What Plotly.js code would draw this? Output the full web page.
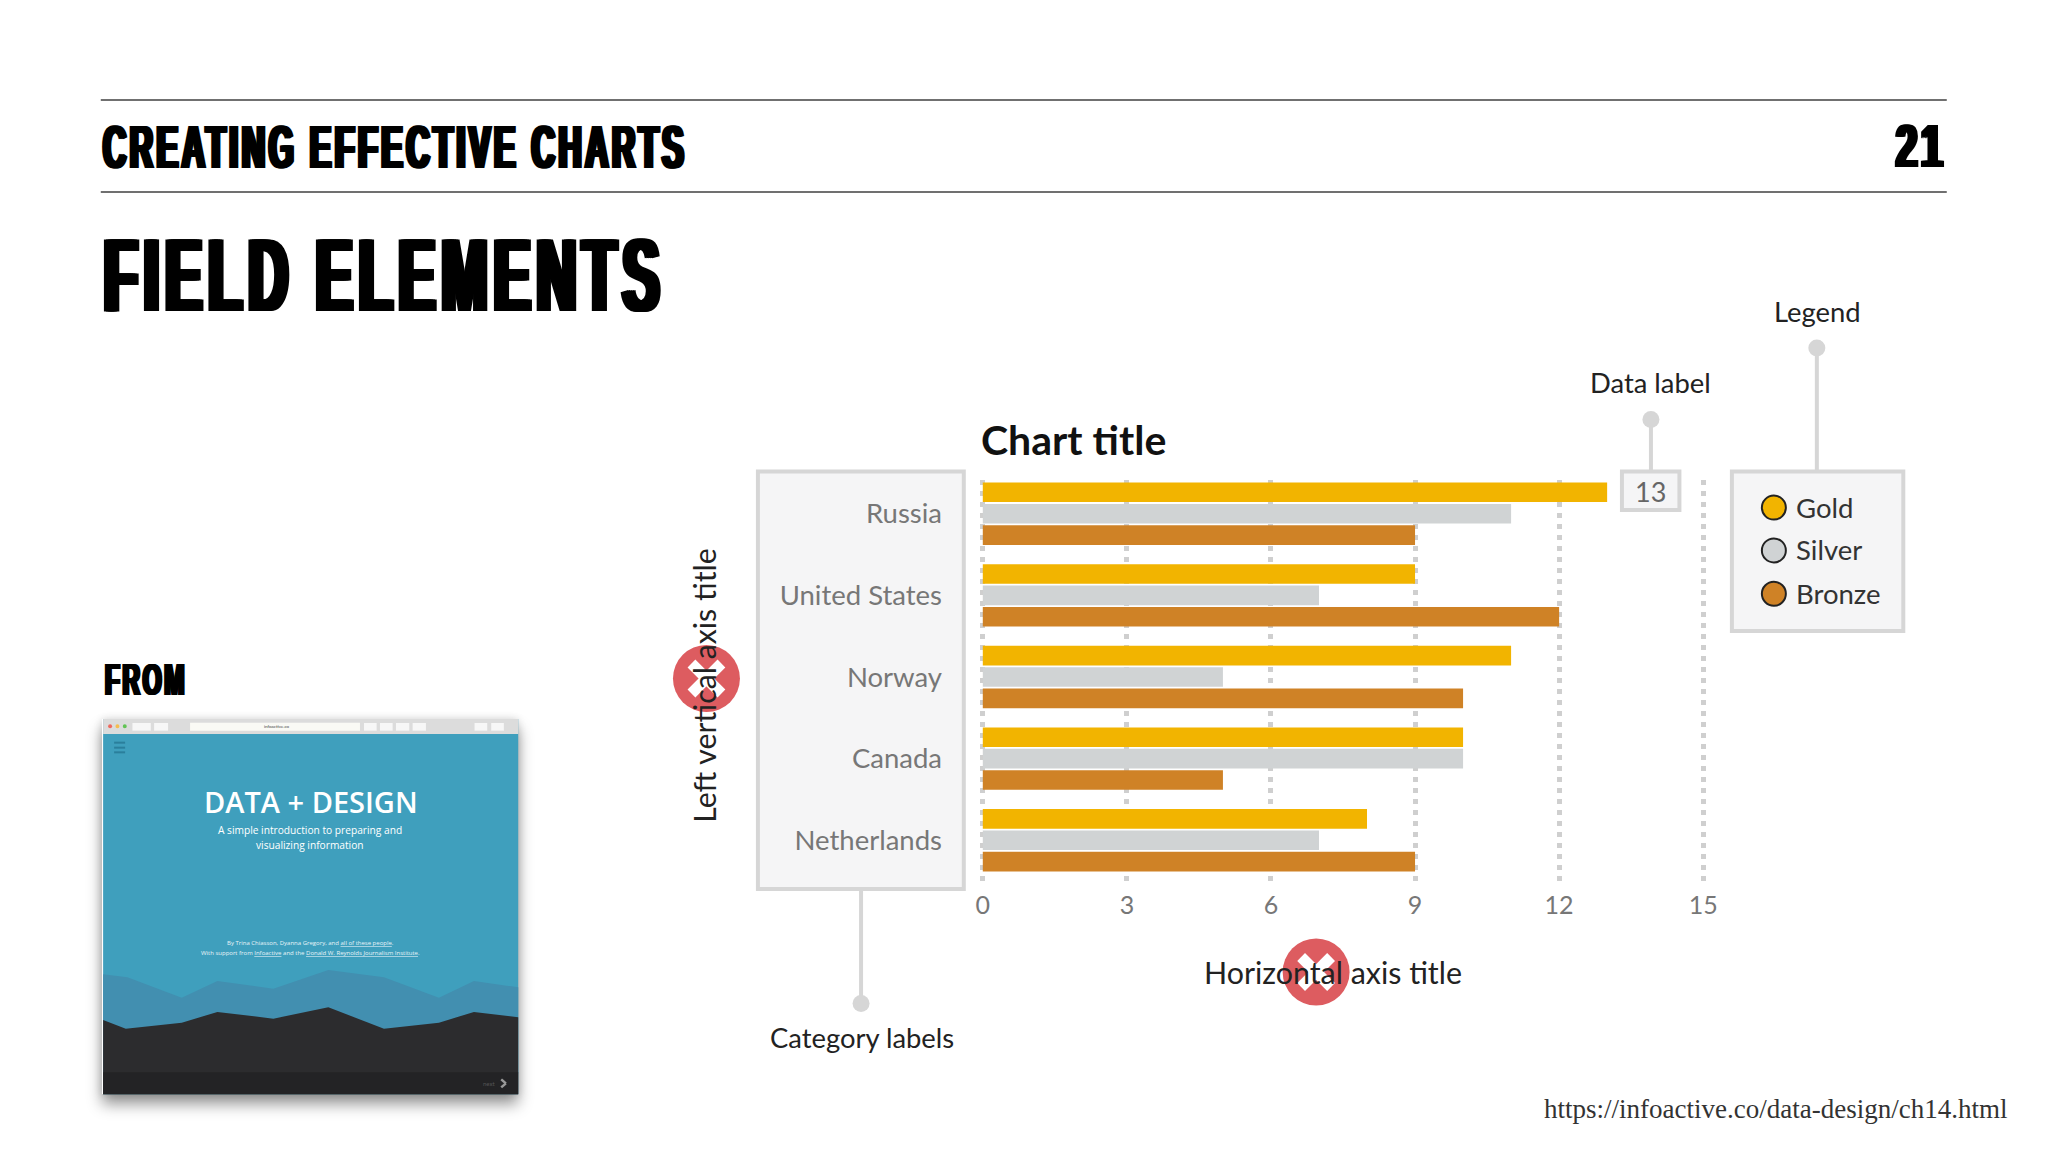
<!DOCTYPE html>
<html><head><meta charset="utf-8">
<script src="https://cdn.plot.ly/plotly-3.0.1.min.js"></script>
<style>html,body{margin:0;padding:0;background:#fff;width:2048px;height:1150px;overflow:hidden}
#shadow{position:absolute;left:102px;top:719px;width:416px;height:375px;box-shadow:0 10px 14px rgba(0,0,0,.42),0 0 8px rgba(0,0,0,.14)}
#chart{position:absolute;left:0;top:0;width:2048px;height:1150px}
.annotation-text[data-unformatted="CREATING EFFECTIVE CHARTS"]{letter-spacing:7px;transform-box:fill-box;transform-origin:0 50%;transform:scaleX(.518)}
.annotation-text[data-unformatted="FIELD ELEMENTS"]{letter-spacing:12px;transform-box:fill-box;transform-origin:0 50%;transform:scaleX(.528)}
.annotation-text[data-unformatted="FROM"]{letter-spacing:5px;transform-box:fill-box;transform-origin:0 50%;transform:scaleX(.55)}
.annotation-text[data-unformatted="21"]{letter-spacing:6px;transform-box:fill-box;transform-origin:100% 50%;transform:scaleX(.62)}
.xtitle{translate:-10px 0}
.ytitle{translate:0 3px}
</style></head>
<body><div id="shadow"></div><div id="chart"></div>
<script>
const categories = ['Russia','United States','Norway','Canada','Netherlands'];
const seriesNames = ['Gold','Silver','Bronze'];
const gold   = [13,9,11,10,8];
const silver = [11,7,5,10,7];
const bronze = [9,12,10,5,9];
const seriesColors = ['#f2b400','#d0d3d4','#cf8226'];
const xTicks = [0,3,6,9,12,15];

const L=977.7,R=1708.1,T=480,B=885,W=2048,H=1150;
const X=p=>(p-L)/(R-L), Y=p=>(B-p)/(B-T);
const BOX='#d6d6d6', BOXFILL='#f5f5f6', SANS='Lato, "Noto Sans", sans-serif', HEAD='"Liberation Sans", sans-serif';
const shapes=[], annotations=[];
const rect=(x0,y0,x1,y1,fill,lc,lw)=>shapes.push({type:'rect',xref:'paper',yref:'paper',x0:X(x0),x1:X(x1),y0:Y(y0),y1:Y(y1),fillcolor:fill,line:{color:lc||fill,width:lw||0},layer:'below'});
const line=(x0,y0,x1,y1,c,w)=>shapes.push({type:'line',xref:'paper',yref:'paper',x0:X(x0),x1:X(x1),y0:Y(y0),y1:Y(y1),line:{color:c,width:w},layer:'below'});
const circle=(cx,cy,r,fill,lc,lw)=>shapes.push({type:'circle',xref:'paper',yref:'paper',x0:X(cx-r),x1:X(cx+r),y0:Y(cy-r),y1:Y(cy+r),fillcolor:fill,line:{color:lc||fill,width:lw||0},layer:'below'});
const poly=(pts,fill)=>shapes.push({type:'path',xref:'paper',yref:'paper',path:'M'+pts.map(p=>X(p[0])+' '+Y(p[1])).join(' L')+' Z',fillcolor:fill,line:{width:0},layer:'below'});
const text=(t,x,y,size,color,anchor,family,extra)=>annotations.push(Object.assign({text:t,xref:'paper',yref:'paper',x:X(x),y:Y(y),xanchor:anchor||'center',yanchor:'middle',showarrow:false,borderpad:0,font:{size,color,family:family||SANS}},extra||{}));

// Slide header
line(100,100,1947,100,'#707070',2);
line(100,192,1947,192,'#707070',2);
const thick=w=>[w,-w,w/2,-w/2].map(d=>`${d}px 0 0 #000`).join(', ');
const head=(size,w)=>({font:{size,color:'#000',family:HEAD,weight:700,shadow:thick(w)}});
text('CREATING EFFECTIVE CHARTS',101,146,62,'#000','left',HEAD,head(62,3.5));
text('21',1947,146,62,'#000','right',HEAD,head(62,3.5));
text('FIELD ELEMENTS',102.5,275,104,'#000','left',HEAD,head(104,5.5));
text('FROM',103,680,44,'#000','left',HEAD,head(44,2.6));

// Thumbnail of the book site
const zx=z=>80+z/3, zy=z=>640+z/3;
rect(zx(67),zy(237),zx(1313),zy(1363),'#3f9fbd');
rect(zx(67),zy(237),zx(1313),zy(282),'#dcdcdc');
[['#ee6a5f',88],['#f5bd4f',110],['#61c454',132]].forEach(d=>circle(zx(d[1]),zy(259),2,d[0]));
rect(zx(328),zy(248),zx(838),zy(272),'#fafaf5');
[[155,210],[220,262],[850,888],[898,936],[946,986],[996,1036],[1182,1220],[1232,1270]].forEach(b=>rect(zx(b[0]),zy(249),zx(b[1]),zy(272),'#f7f7f7'));
text('infoactive.co',zx(588),zy(260),4.5,'#444');
[308,323,337].forEach(y=>line(zx(100),zy(y),zx(133),zy(y),'#2a7f9c',2));
const mid=[[67,1003],[140,1012],[303,1073],[410,1023],[578,1046],[743,990],[910,1012],[1075,1073],[1180,1023],[1313,1042]];
const dark=[[67,1140],[135,1166],[303,1148],[410,1116],[578,1136],[743,1102],[910,1166],[1075,1148],[1180,1116],[1313,1132]];
const toPx=a=>a.map(p=>[zx(p[0]),zy(p[1])]);
poly(toPx(mid).concat([[zx(1313),zy(1300)],[zx(67),zy(1300)]]),'#428fb0');
poly(toPx(dark).concat([[zx(1313),zy(1363)],[zx(67),zy(1363)]]),'#2c2c2e');
rect(zx(67),zy(1297),zx(1313),zy(1363),'#232325');
const W2='#ffffff';
text('DATA + DESIGN',zx(690),zy(485),29,W2,'center',SANS,{font:{size:29,color:W2,family:'"Open Sans", sans-serif',weight:600}});
text('A simple introduction to preparing and',zx(689),zy(570),10.2,W2,'center','"Open Sans", sans-serif');
text('visualizing information',zx(689),zy(614),10.2,W2,'center','"Open Sans", sans-serif');
text('By Trina Chiasson, Dyanna Gregory, and <u>all of these people</u>.',zx(689),zy(908),6,'#e8f4f8','center','"Open Sans", sans-serif');
text('With support from <u>Infoactive</u> and the <u>Donald W. Reynolds Journalism Institute</u>.',zx(689),zy(938),6,'#e8f4f8','center','"Open Sans", sans-serif');
text('next',zx(1224),zy(1330),6,'#555');
line(zx(1262),zy(1318),zx(1276),zy(1330),'#999',2.5);
line(zx(1276),zy(1330),zx(1262),zy(1342),'#999',2.5);

// Annotation furniture
rect(757.5,471.5,963.5,889,BOXFILL,BOX,4);
rect(1732,471.5,1903.5,631,BOXFILL,BOX,4);
rect(1622,471.5,1679.5,510,BOXFILL,BOX,4);
line(860.7,889.5,860.7,1003.5,BOX,4); circle(860.7,1003.5,8.5,BOX);
line(1651,470,1651,419.5,BOX,4);      circle(1651,419.5,8.5,BOX);
line(1817,470,1817,348,BOX,4);        circle(1817,348,8.5,BOX);
text('Category labels',862,1037.5,27.4,'#222');
text('Data label',1651,382,27.4,'#222');
text('Legend',1817.5,311,27.4,'#222');

// Legend
const legendY=[507.6,550.4,593.8];
seriesNames.forEach((n,i)=>{
  circle(1774,legendY[i],12,seriesColors[i],'#222',2);
  text(n,1795,legendY[i]-0.5,27.5,'#333','left');
});

// Red "remove" marks
[[706,678.5],[1316,972]].forEach(c=>{
  circle(c[0],c[1],33.5,'#dd5c60');
  line(c[0]-15,c[1]-15,c[0]+15,c[1]+15,'#fff',11);
  line(c[0]+15,c[1]-15,c[0]-15,c[1]+15,'#fff',11);
});

// Source
text('https://infoactive.co/data-design/ch14.html',2008.5,1109,27,'#333','right','"Liberation Serif", serif');

// Data label, anchored on the bar's value
annotations.push({text:String(gold[0]),xref:'x',yref:'y',x:gold[0],y:categories[0],xanchor:'center',yanchor:'middle',xshift:43.7,yshift:22,showarrow:false,font:{size:27,color:'#666',family:SANS}});

const traces=[gold,silver,bronze].map((v,i)=>({type:'bar',orientation:'h',name:seriesNames[i],x:v,y:categories,marker:{color:seriesColors[i]},hoverinfo:'x+name'}));

const layout={
  width:W,height:H,paper_bgcolor:'rgba(0,0,0,0)',plot_bgcolor:'rgba(0,0,0,0)',showlegend:false,
  margin:{l:L,r:W-R,t:T,b:H-B,pad:0},
  barmode:'group',bargap:0.214,bargroupgap:0.084,
  title:{text:'Chart title',xref:'container',yref:'container',x:981/W,xanchor:'left',y:1-441/H,yanchor:'middle',font:{size:41,color:'#111',family:SANS,weight:700}},
  xaxis:{range:[-0.1,15.1],tickvals:xTicks,ticktext:xTicks.map(String),showgrid:true,gridcolor:'#cfcfcf',gridwidth:4.5,griddash:'4.5px,6.5px',zeroline:false,showline:false,ticks:'',ticklabelstandoff:3,
    tickfont:{size:25,color:'#777',family:SANS},title:{text:'Horizontal axis title',standoff:44,font:{size:30.4,color:'#222',family:SANS}}},
  yaxis:{type:'category',categoryorder:'array',categoryarray:categories,range:[4.548,-0.413],showgrid:false,zeroline:false,showline:false,ticks:'',ticklabelstandoff:35,
    tickfont:{size:27.5,color:'#777',family:SANS},title:{text:'Left vertical axis title',standoff:53.5,font:{size:30.3,color:'#222',family:SANS}}},
  shapes,annotations
};
Plotly.newPlot('chart',traces,layout,{displayModeBar:false,responsive:false});
</script></body></html>
